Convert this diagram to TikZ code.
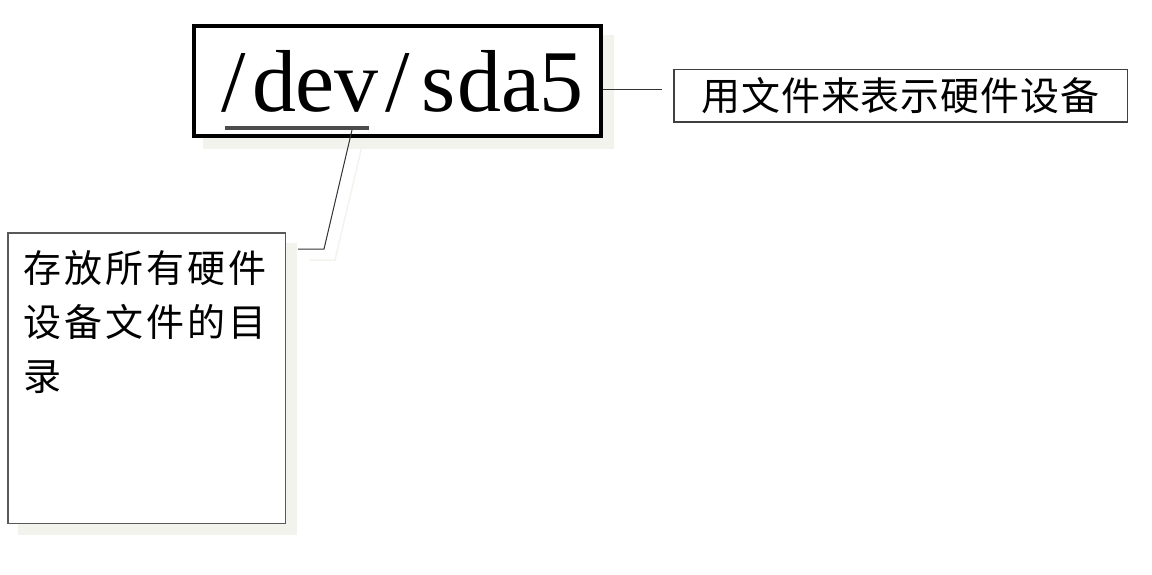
\documentclass[tikz,border=0pt]{standalone}
\usepackage{fontspec}
\setmainfont{Liberation Serif}
\newfontfamily\cjk[LetterSpace=8]{Noto Sans CJK SC}
\newfontfamily\cjkb[LetterSpace=2.5]{Noto Sans CJK SC}
\usetikzlibrary{backgrounds}
\definecolor{shadowc}{HTML}{F3F3EE}
\newcommand{\mc}[1]{\makebox[41pt]{#1}}

\begin{document}
\begin{tikzpicture}[x=1pt, y=-1pt,
  devbox/.style={draw, line width=4pt, fill=white, minimum width=407pt, minimum height=110pt, inner sep=0pt, font=\fontsize{88pt}{88pt}\selectfont},
  notebox/.style={draw=black!65, line width=1.5pt, fill=white, inner sep=0pt},
  link/.style={draw=black!80, line width=1pt}]
\useasboundingbox (0,0) rectangle (1152,575);

\node[devbox] (dev) at (397.5,81) {\mc{/}\mc{d}\mc{e}\mc{v}\mc{/}\mc{s}\mc{d}\mc{a}\mc{5}\hspace{10pt}};
\node[notebox, draw=black!75, minimum width=453.5pt, minimum height=52.5pt, font=\cjkb\fontsize{39pt}{39pt}\selectfont] (hw) at (900.5,96) {用文件来表示硬件设备};
\node[notebox, minimum width=277.5pt, minimum height=290.5pt] (dir) at (146.5,378) {};
\node[anchor=north west, align=left, inner sep=0pt, font=\cjk\fontsize{38pt}{54pt}\selectfont] (dirtext) at (23,250) {存放所有硬件\\设备文件的目\\录};

\coordinate (ul1) at (225,128);
\coordinate (ul2) at (369,128);
\draw[line width=4pt, draw=black!70] (ul1) -- (ul2);

\coordinate (ulfoot) at (352,130);
\coordinate (bend) at (324,249);
\coordinate (tip) at (298,249);
\draw[link] (ulfoot) -- (bend) -- (tip);

\coordinate (hwtip) at (662,90);
\draw[link] (dev.east |- hwtip) -- (hwtip);

\begin{scope}[on background layer]
\fill[shadowc] ([shift={(11,11)}]dev.south west) rectangle ([shift={(11,11)}]dev.north east);
\fill[shadowc] ([shift={(11,11)}]dir.south west) rectangle ([shift={(11,11)}]dir.north east);
\draw[shadowc, line width=1.5pt] ([shift={(11,12)}]ulfoot) -- ([shift={(11,11)}]bend) -- ([shift={(11,11)}]tip);
\end{scope}
\end{tikzpicture}
\end{document}
